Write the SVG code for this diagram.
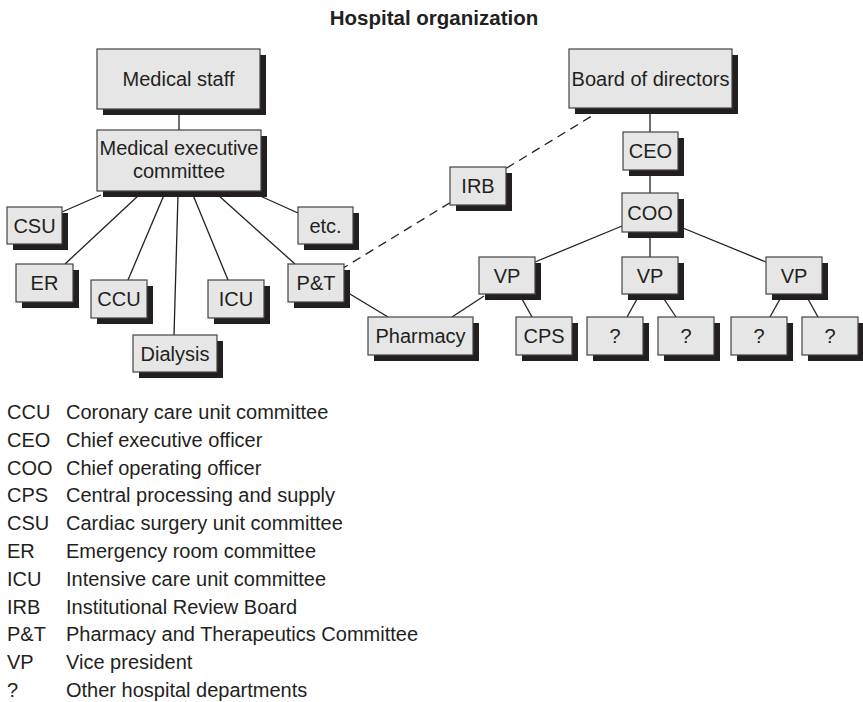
<svg xmlns="http://www.w3.org/2000/svg" width="863" height="702" viewBox="0 0 863 702">
  <defs>
    <style>
      text { font-family: "Liberation Sans", Arial, Helvetica, sans-serif; fill: #231f20; }
      .title { font-size: 20.5px; font-weight: bold; text-anchor: middle; }
      .lbl { font-size: 20px; text-anchor: middle; }
      .leg { font-size: 20px; }
      .box { fill: #e6e6e6; stroke: #444; stroke-width: 1.2; }
      .shadow { fill: #231f20; }
      .link { stroke: #231f20; stroke-width: 1.3; fill: none; }
      .dash { stroke: #231f20; stroke-width: 1.3; fill: none; stroke-dasharray: 9 6; }
    </style>
  </defs>

  <rect width="863" height="702" fill="#ffffff"/>

  <text class="title" x="434" y="25">Hospital organization</text>

  <!-- connectors (drawn beneath the boxes) -->
  <g id="connectors">
    <line class="link" x1="179" y1="109" x2="179" y2="130"/>
    <line class="link" x1="101" y1="195" x2="62" y2="212"/>
    <line class="link" x1="139" y1="195" x2="65" y2="264"/>
    <line class="link" x1="164" y1="195" x2="128" y2="280"/>
    <line class="link" x1="178" y1="195" x2="174" y2="335"/>
    <line class="link" x1="193" y1="195" x2="228" y2="280"/>
    <line class="link" x1="218" y1="195" x2="295" y2="264"/>
    <line class="link" x1="258" y1="195" x2="298" y2="213"/>
    <line class="link" x1="340" y1="288" x2="388" y2="317"/>
    <line class="dash" x1="340" y1="270" x2="600" y2="111"/>
    <line class="link" x1="650" y1="108" x2="650" y2="132"/>
    <line class="link" x1="650" y1="170" x2="650" y2="193"/>
    <line class="link" x1="650" y1="232" x2="650" y2="257"/>
    <line class="link" x1="622" y1="226" x2="535" y2="262"/>
    <line class="link" x1="678" y1="226" x2="766" y2="262"/>
    <line class="link" x1="484" y1="296" x2="452" y2="317"/>
    <line class="link" x1="522" y1="299" x2="532" y2="317"/>
    <line class="link" x1="637" y1="299" x2="627" y2="317"/>
    <line class="link" x1="664" y1="299" x2="676" y2="317"/>
    <line class="link" x1="780" y1="299" x2="770" y2="317"/>
    <line class="link" x1="808" y1="299" x2="818" y2="317"/>
  </g>

  <!-- nodes: shadow rect offset by 6px, then the box and its label -->
  <g id="medical-staff">
    <rect class="shadow" x="103" y="55" width="163" height="60"/>
    <rect class="box" x="97" y="49" width="163" height="60"/>
    <text class="lbl" x="178.5" y="86">Medical staff</text>
  </g>
  <g id="medical-executive-committee">
    <rect class="shadow" x="103" y="136" width="164" height="61"/>
    <rect class="box" x="97" y="130" width="164" height="61"/>
    <text class="lbl" x="179" y="155">Medical executive</text>
    <text class="lbl" x="179" y="178">committee</text>
  </g>
  <g id="board">
    <rect class="shadow" x="575" y="55" width="163" height="59"/>
    <rect class="box" x="569" y="49" width="163" height="59"/>
    <text class="lbl" x="650.5" y="85.5">Board of directors</text>
  </g>
  <g id="ceo">
    <rect class="shadow" x="629" y="138" width="55" height="38"/>
    <rect class="box" x="623" y="132" width="55" height="38"/>
    <text class="lbl" x="650.5" y="158">CEO</text>
  </g>
  <g id="irb">
    <rect class="shadow" x="456" y="173" width="56" height="38"/>
    <rect class="box" x="450" y="167" width="56" height="38"/>
    <text class="lbl" x="478" y="193">IRB</text>
  </g>
  <g id="coo">
    <rect class="shadow" x="628" y="199" width="56" height="39"/>
    <rect class="box" x="622" y="193" width="56" height="39"/>
    <text class="lbl" x="650" y="219.5">COO</text>
  </g>
  <g id="csu">
    <rect class="shadow" x="13" y="213" width="55" height="37"/>
    <rect class="box" x="7" y="207" width="55" height="37"/>
    <text class="lbl" x="34.5" y="232.5">CSU</text>
  </g>
  <g id="etc">
    <rect class="shadow" x="304" y="213" width="55" height="37"/>
    <rect class="box" x="298" y="207" width="55" height="37"/>
    <text class="lbl" x="325.5" y="232.5">etc.</text>
  </g>
  <g id="er">
    <rect class="shadow" x="22" y="270" width="57" height="38"/>
    <rect class="box" x="16" y="264" width="57" height="38"/>
    <text class="lbl" x="44.5" y="290">ER</text>
  </g>
  <g id="pt">
    <rect class="shadow" x="294" y="270" width="56" height="38"/>
    <rect class="box" x="288" y="264" width="56" height="38"/>
    <text class="lbl" x="316" y="290">P&amp;T</text>
  </g>
  <g id="ccu">
    <rect class="shadow" x="97" y="286" width="56" height="38"/>
    <rect class="box" x="91" y="280" width="56" height="38"/>
    <text class="lbl" x="119" y="306">CCU</text>
  </g>
  <g id="icu">
    <rect class="shadow" x="214" y="286" width="56" height="38"/>
    <rect class="box" x="208" y="280" width="56" height="38"/>
    <text class="lbl" x="236" y="306">ICU</text>
  </g>
  <g id="dialysis">
    <rect class="shadow" x="139" y="341" width="84" height="37"/>
    <rect class="box" x="133" y="335" width="84" height="37"/>
    <text class="lbl" x="175" y="360.5">Dialysis</text>
  </g>
  <g id="vp1">
    <rect class="shadow" x="485" y="263" width="56" height="37"/>
    <rect class="box" x="479" y="257" width="56" height="37"/>
    <text class="lbl" x="507" y="282.5">VP</text>
  </g>
  <g id="vp2">
    <rect class="shadow" x="628" y="263" width="56" height="37"/>
    <rect class="box" x="622" y="257" width="56" height="37"/>
    <text class="lbl" x="650" y="282.5">VP</text>
  </g>
  <g id="vp3">
    <rect class="shadow" x="772" y="263" width="56" height="37"/>
    <rect class="box" x="766" y="257" width="56" height="37"/>
    <text class="lbl" x="794" y="282.5">VP</text>
  </g>
  <g id="pharmacy">
    <rect class="shadow" x="374" y="323" width="105" height="38"/>
    <rect class="box" x="368" y="317" width="105" height="38"/>
    <text class="lbl" x="420.5" y="343">Pharmacy</text>
  </g>
  <g id="cps">
    <rect class="shadow" x="522" y="323" width="56" height="38"/>
    <rect class="box" x="516" y="317" width="56" height="38"/>
    <text class="lbl" x="544" y="343">CPS</text>
  </g>
  <g id="dept1">
    <rect class="shadow" x="593" y="323" width="56" height="38"/>
    <rect class="box" x="587" y="317" width="56" height="38"/>
    <text class="lbl" x="615" y="343">?</text>
  </g>
  <g id="dept2">
    <rect class="shadow" x="664" y="323" width="56" height="38"/>
    <rect class="box" x="658" y="317" width="56" height="38"/>
    <text class="lbl" x="686" y="343">?</text>
  </g>
  <g id="dept3">
    <rect class="shadow" x="737" y="323" width="56" height="38"/>
    <rect class="box" x="731" y="317" width="56" height="38"/>
    <text class="lbl" x="759" y="343">?</text>
  </g>
  <g id="dept4">
    <rect class="shadow" x="808" y="323" width="56" height="38"/>
    <rect class="box" x="802" y="317" width="56" height="38"/>
    <text class="lbl" x="830" y="343">?</text>
  </g>

  <!-- abbreviation key -->
  <g id="legend" class="leg">
    <text x="7" y="419">CCU</text><text x="66" y="419">Coronary care unit committee</text>
    <text x="7" y="446.8">CEO</text><text x="66" y="446.8">Chief executive officer</text>
    <text x="7" y="474.6">COO</text><text x="66" y="474.6">Chief operating officer</text>
    <text x="7" y="502.4">CPS</text><text x="66" y="502.4">Central processing and supply</text>
    <text x="7" y="530.2">CSU</text><text x="66" y="530.2">Cardiac surgery unit committee</text>
    <text x="7" y="558">ER</text><text x="66" y="558">Emergency room committee</text>
    <text x="7" y="585.8">ICU</text><text x="66" y="585.8">Intensive care unit committee</text>
    <text x="7" y="613.6">IRB</text><text x="66" y="613.6">Institutional Review Board</text>
    <text x="7" y="641.4">P&amp;T</text><text x="66" y="641.4">Pharmacy and Therapeutics Committee</text>
    <text x="7" y="669.2">VP</text><text x="66" y="669.2">Vice president</text>
    <text x="7" y="697">?</text><text x="66" y="697">Other hospital departments</text>
  </g>
</svg>
